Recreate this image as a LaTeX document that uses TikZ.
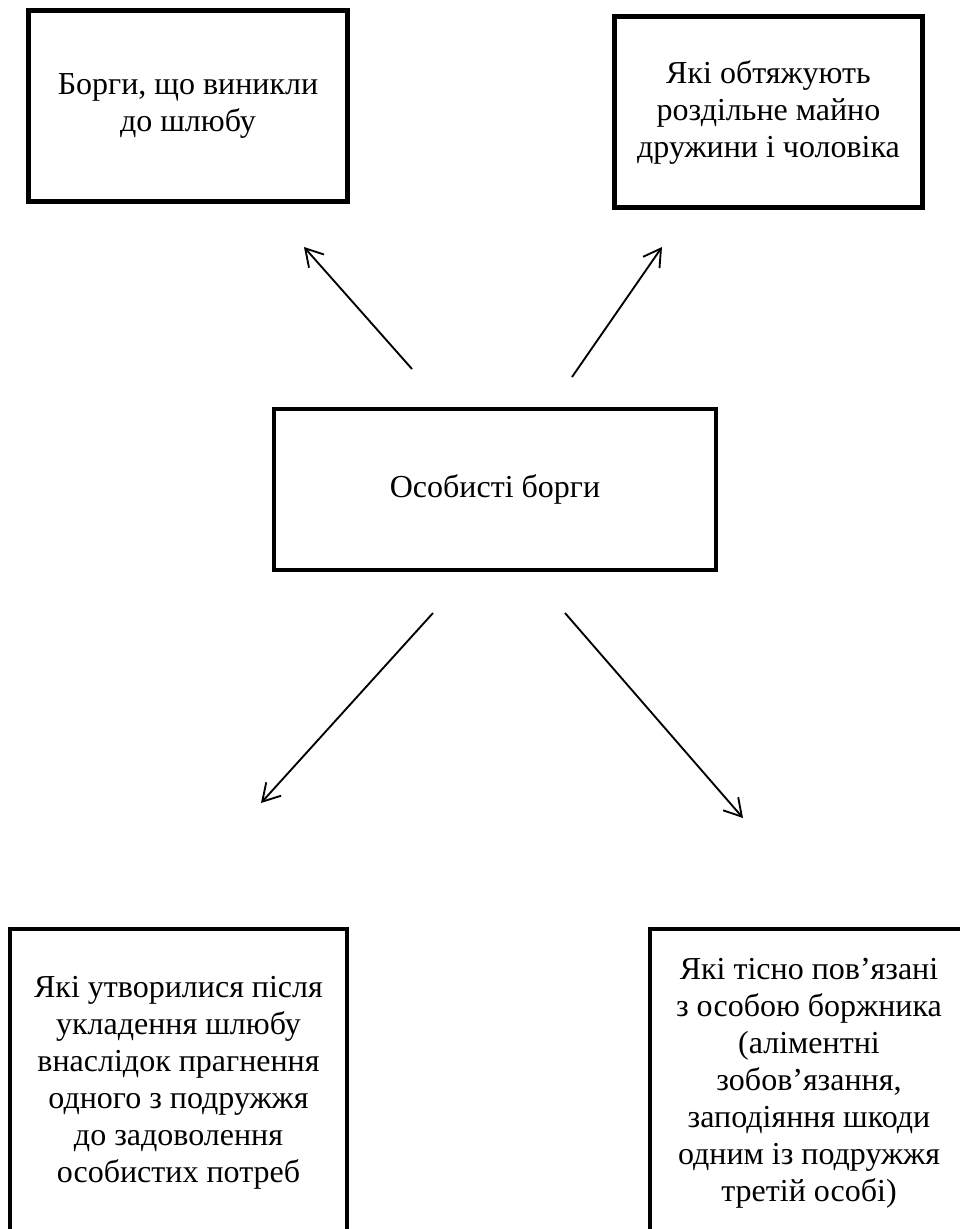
\documentclass[tikz,border=0pt]{standalone}
\usepackage{fontspec}
\setmainfont{Liberation Serif}
\usetikzlibrary{arrows.meta}

\begin{document}
\begin{tikzpicture}[
    x=0.75pt, y=-0.75pt,
    debt/.style={draw, line width=3.7pt, align=center, inner sep=0pt, font=\fontsize{24}{27.75}\selectfont},
    arrow/.style={-{Straight Barb[length=12.75pt, width=15pt]}, line width=1.4pt}
]
\useasboundingbox (0,0) rectangle (960,1229);
\clip (0,0) rectangle (960,1229);

% Main box
\node[debt, minimum width=331.5pt, minimum height=120.75pt] (personal) at (495,489.5) {Особисті борги};

% Upper boxes
\node[debt, minimum width=239.6pt, minimum height=142.9pt] (before) at (188,106) {Борги, що виникли\\до шлюбу};
\node[debt, minimum width=231pt, minimum height=143.6pt] (separate) at (768.5,112) {Які обтяжують\\роздільне майно\\дружини і чоловіка};

% Lower boxes
\node[debt, minimum width=252.75pt, minimum height=231pt] (needs) at (178.5,1083) {Які утворилися після\\укладення шлюбу\\внаслідок прагнення\\одного з подружжя\\до задоволення\\особистих потреб};
\node[debt, minimum width=238.5pt, minimum height=231.75pt] (debtor) at (809,1083.5) {Які тісно пов’язані\\з особою боржника\\(аліментні\\зобов’язання,\\заподіяння шкоди\\одним із подружжя\\третій особі)};

% Arrow ends
\coordinate (fromA) at (412,369);  \coordinate (toA) at (304,247);
\coordinate (fromB) at (572,377);  \coordinate (toB) at (662,247);
\coordinate (fromC) at (433,613);  \coordinate (toC) at (261,803);
\coordinate (fromD) at (565,613);  \coordinate (toD) at (743,818);

% Arrows
\draw[arrow] (fromA) -- (toA);
\draw[arrow] (fromB) -- (toB);
\draw[arrow] (fromC) -- (toC);
\draw[arrow] (fromD) -- (toD);

\end{tikzpicture}
\end{document}
